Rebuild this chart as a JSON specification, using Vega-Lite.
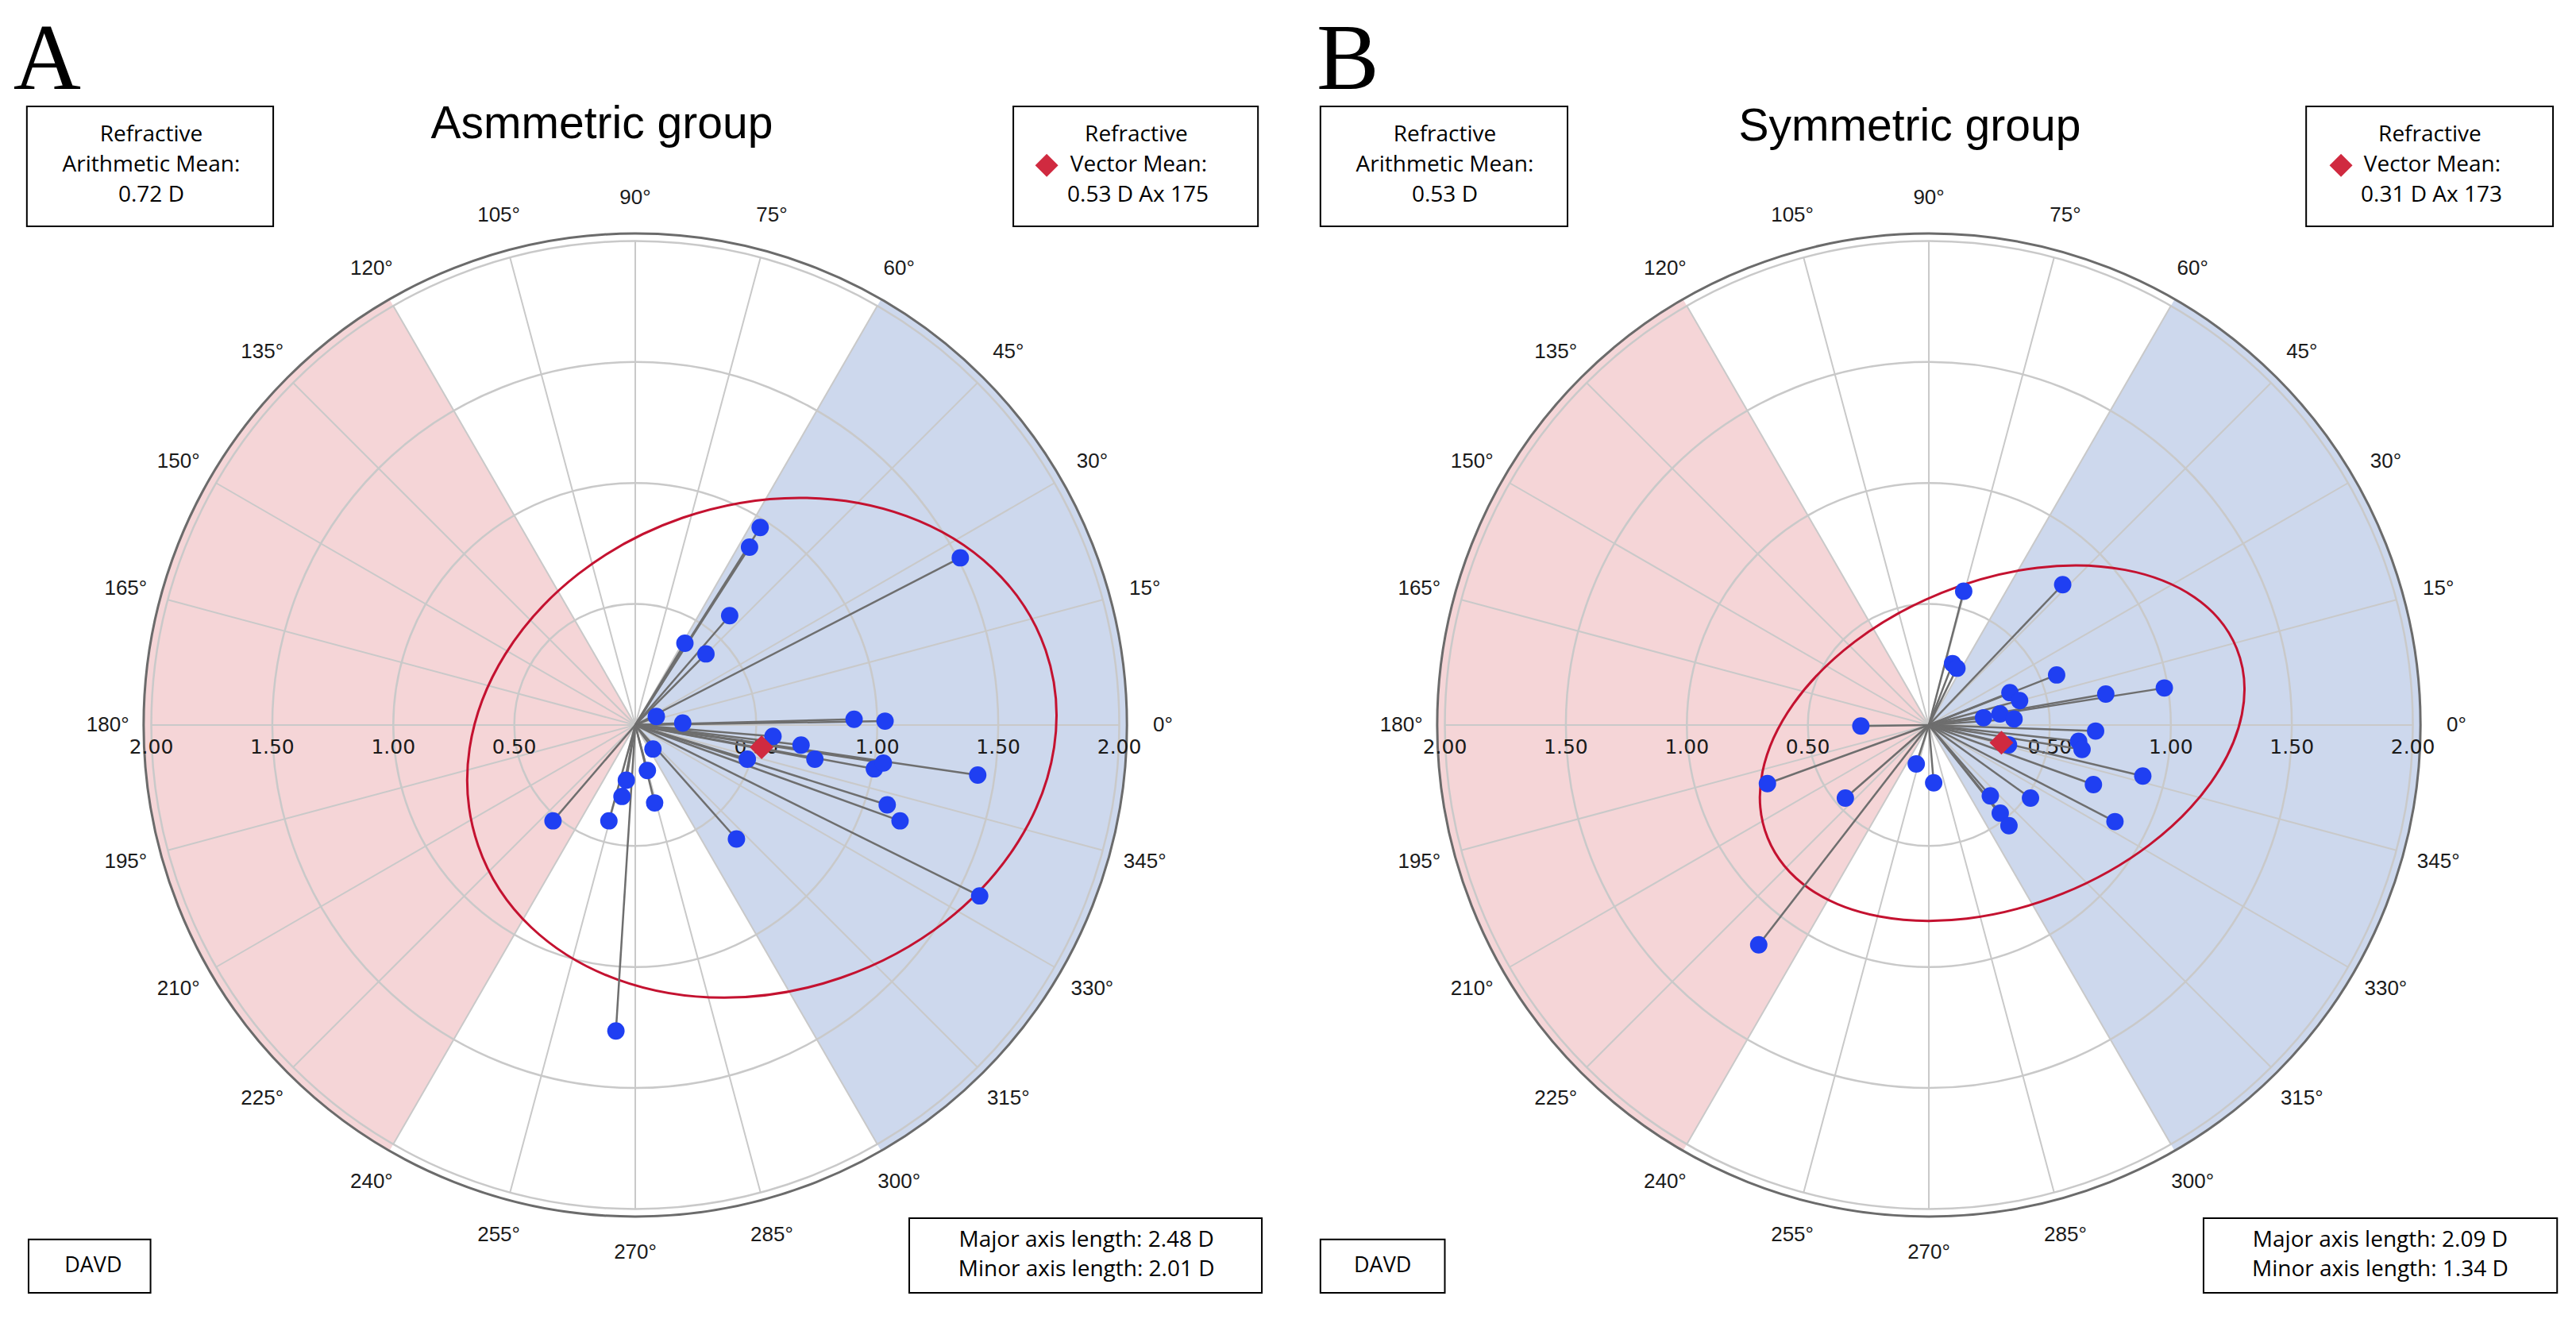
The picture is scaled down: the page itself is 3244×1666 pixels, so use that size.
{
"$schema": "https://vega.github.io/schema/vega-lite/v6.json",
"padding": 0, "spacing": 0, "background": "white",
"config": {"view": {"stroke": null}, "axis": {"disable": true}, "legend": {"disable": true}},
"datasets": {
 "ang": [{"a":0,"t":"0°"},{"a":15,"t":"15°"},{"a":30,"t":"30°"},{"a":45,"t":"45°"},{"a":60,"t":"60°"},{"a":75,"t":"75°"},{"a":90,"t":"90°"},{"a":105,"t":"105°"},{"a":120,"t":"120°"},{"a":135,"t":"135°"},{"a":150,"t":"150°"},{"a":165,"t":"165°"},{"a":180,"t":"180°"},{"a":195,"t":"195°"},{"a":210,"t":"210°"},{"a":225,"t":"225°"},{"a":240,"t":"240°"},{"a":255,"t":"255°"},{"a":270,"t":"270°"},{"a":285,"t":"285°"},{"a":300,"t":"300°"},{"a":315,"t":"315°"},{"a":330,"t":"330°"},{"a":345,"t":"345°"}],
 "rings": [{"r":0.5},{"r":1},{"r":1.5},{"r":2}],
 "rlab": [{"v":-2,"t":"2.00"},{"v":-1.5,"t":"1.50"},{"v":-1,"t":"1.00"},{"v":-0.5,"t":"0.50"},{"v":0.5,"t":"0.50"},{"v":1,"t":"1.00"},{"v":1.5,"t":"1.50"},{"v":2,"t":"2.00"}],
 "zones": [{"from":-60,"to":60,"zone":"with"},{"from":120,"to":240,"zone":"against"}],
 "ptsA": [{"x":0.516,"y":0.816},{"x":0.472,"y":0.735},{"x":1.343,"y":0.691},{"x":0.390,"y":0.452},{"x":0.205,"y":0.338},{"x":0.292,"y":0.294},{"x":0.087,"y":0.035},{"x":0.196,"y":0.008},{"x":0.904,"y":0.024},{"x":1.032,"y":0.016},{"x":0.569,"y":-0.047},{"x":0.685,"y":-0.083},{"x":0.742,"y":-0.141},{"x":0.463,"y":-0.141},{"x":0.988,"y":-0.181},{"x":1.025,"y":-0.157},{"x":1.415,"y":-0.207},{"x":1.041,"y":-0.330},{"x":1.094,"y":-0.396},{"x":0.418,"y":-0.471},{"x":1.423,"y":-0.706},{"x":0.073,"y":-0.099},{"x":0.050,"y":-0.188},{"x":-0.037,"y":-0.228},{"x":-0.055,"y":-0.295},{"x":0.080,"y":-0.322},{"x":-0.109,"y":-0.396},{"x":-0.340,"y":-0.396},{"x":-0.080,"y":-1.264}],
 "ptsB": [{"x":0.553,"y":0.580},{"x":0.144,"y":0.553},{"x":0.098,"y":0.254},{"x":0.116,"y":0.235},{"x":0.528,"y":0.207},{"x":0.973,"y":0.153},{"x":0.731,"y":0.128},{"x":0.335,"y":0.134},{"x":0.375,"y":0.101},{"x":0.294,"y":0.046},{"x":0.226,"y":0.030},{"x":0.352,"y":0.025},{"x":0.689,"y":-0.025},{"x":0.619,"y":-0.067},{"x":0.633,"y":-0.101},{"x":0.329,"y":-0.082},{"x":0.884,"y":-0.211},{"x":0.680,"y":-0.246},{"x":0.420,"y":-0.302},{"x":0.254,"y":-0.293},{"x":0.295,"y":-0.364},{"x":0.331,"y":-0.416},{"x":0.769,"y":-0.399},{"x":-0.052,"y":-0.161},{"x":0.020,"y":-0.239},{"x":-0.281,"y":-0.004},{"x":-0.667,"y":-0.242},{"x":-0.345,"y":-0.302},{"x":-0.703,"y":-0.908}]
},
"hconcat": [
{
 "width": 1629, "height": 1666,
 "data": {"values": [{}]},
 "layer": [
  {"data": {"name": "zones"}, "mark": {"type": "arc", "strokeWidth": 0},
   "encoding": {"x": {"datum": 0, "type": "quantitative", "scale": {"domain": [-2.625, 2.72], "nice": false, "zero": false}},
    "y": {"datum": 0, "type": "quantitative", "scale": {"domain": [-2.471, 2.996], "nice": false, "zero": false}},
    "theta": {"field": "from", "type": "quantitative", "stack": null, "scale": {"type": "linear", "domain": [0, 360], "range": [1.5707963, -4.712389], "zero": false, "nice": false}},
    "theta2": {"field": "to"},
    "radius": {"datum": 2.031, "type": "quantitative", "stack": null, "scale": {"type": "linear", "domain": [0, 2], "range": [0, 609.5], "zero": true, "nice": false}},
    "color": {"field": "zone", "type": "nominal", "scale": {"domain": ["with", "against"], "range": ["#cdd8ed", "#f5d5d7"]}, "legend": null}}},
  {"data": {"name": "rings"}, "mark": {"type": "arc", "theta": 0, "theta2": 6.2832, "filled": false, "stroke": "#c9c9c9", "strokeWidth": 2.5},
   "encoding": {"x": {"datum": 0, "type": "quantitative"}, "y": {"datum": 0, "type": "quantitative"}, "radius": {"field": "r", "type": "quantitative", "stack": null}}},
  {"data": {"name": "ang"}, "mark": {"type": "arc", "filled": false, "stroke": "#c9c9c9", "strokeWidth": 2},
   "encoding": {"x": {"datum": 0, "type": "quantitative"}, "y": {"datum": 0, "type": "quantitative"}, "theta": {"field": "a", "type": "quantitative", "stack": null}, "theta2": {"field": "a"}, "radius": {"datum": 2, "type": "quantitative", "stack": null}}},
  {"mark": {"type": "arc", "theta": 0, "theta2": 6.2832, "filled": false, "stroke": "#6b6b6b", "strokeWidth": 3},
   "encoding": {"x": {"datum": 0, "type": "quantitative"}, "y": {"datum": 0, "type": "quantitative"}, "radius": {"datum": 2.031, "type": "quantitative", "stack": null}}},
  {"data": {"name": "rlab"}, "mark": {"type": "text", "font": "DejaVu Sans", "fontSize": 25, "color": "#1a1a1a", "align": "center", "baseline": "middle"},
   "encoding": {"x": {"field": "v", "type": "quantitative"}, "y": {"datum": -0.092, "type": "quantitative"}, "text": {"field": "t"}}},
  {"data": {"name": "ang"}, "mark": {"type": "text", "font": "Liberation Sans", "fontSize": 26, "color": "#1a1a1a", "align": "center", "baseline": "middle"},
   "encoding": {"x": {"datum": 0, "type": "quantitative"}, "y": {"datum": 0, "type": "quantitative"}, "theta": {"field": "a", "type": "quantitative", "stack": null}, "radius": {"datum": 2.18, "type": "quantitative", "stack": null}, "text": {"field": "t"}}},
  {"mark": {"type": "point", "shape": "M1,0C1,0.4476,0.5523,0.8105,0,0.8105C-0.5523,0.8105,-1,0.4476,-1,0C-1,-0.4476,-0.5523,-0.8105,0,-0.8105C0.5523,-0.8105,1,-0.4476,1,0Z", "filled": false, "stroke": "#c41230", "strokeWidth": 3, "opacity": 1, "size": 571236, "angle": -19},
   "encoding": {"x": {"datum": 0.523, "type": "quantitative"}, "y": {"datum": -0.094, "type": "quantitative"}}},
  {"data": {"name": "ptsA"}, "mark": {"type": "rule", "stroke": "#6e6e6e", "strokeWidth": 2.5},
   "encoding": {"x": {"field": "x", "type": "quantitative"}, "y": {"field": "y", "type": "quantitative"}, "x2": {"datum": 0}, "y2": {"datum": 0}}},
  {"data": {"name": "ptsA"}, "mark": {"type": "point", "shape": "circle", "filled": true, "color": "#1f3ff2", "opacity": 1, "size": 480},
   "encoding": {"x": {"field": "x", "type": "quantitative"}, "y": {"field": "y", "type": "quantitative"}}},
  {"mark": {"type": "point", "shape": "diamond", "filled": true, "color": "#d02a40", "opacity": 1, "size": 900},
   "encoding": {"x": {"datum": 0.522, "type": "quantitative"}, "y": {"datum": -0.092, "type": "quantitative"}}},
  {"mark": {"type": "text", "text": "A", "font": "Liberation Serif", "fontSize": 118, "color": "black", "align": "left", "baseline": "alphabetic"},
   "encoding": {"x": {"datum": -2.57, "type": "quantitative"}, "y": {"datum": 2.628, "type": "quantitative"}}},
  {"mark": {"type": "text", "text": "Asmmetric group", "font": "Liberation Sans", "fontSize": 57, "color": "black", "align": "center", "baseline": "alphabetic"},
   "encoding": {"x": {"datum": -0.138, "type": "quantitative"}, "y": {"datum": 2.425, "type": "quantitative"}}},
  {"mark": {"type": "rect", "fill": "white", "stroke": "black", "strokeWidth": 2},
   "encoding": {"x": {"datum": -2.514, "type": "quantitative"}, "x2": {"datum": -1.496}, "y": {"datum": 2.556, "type": "quantitative"}, "y2": {"datum": 2.061}}},
  {"mark": {"type": "rect", "fill": "white", "stroke": "black", "strokeWidth": 2},
   "encoding": {"x": {"datum": 1.562, "type": "quantitative"}, "x2": {"datum": 2.573}, "y": {"datum": 2.556, "type": "quantitative"}, "y2": {"datum": 2.061}}},
  {"mark": {"type": "rect", "fill": "white", "stroke": "black", "strokeWidth": 2},
   "encoding": {"x": {"datum": -2.507, "type": "quantitative"}, "x2": {"datum": -2.003}, "y": {"datum": -2.126, "type": "quantitative"}, "y2": {"datum": -2.346}}},
  {"mark": {"type": "rect", "fill": "white", "stroke": "black", "strokeWidth": 2},
   "encoding": {"x": {"datum": 1.132, "type": "quantitative"}, "x2": {"datum": 2.589}, "y": {"datum": -2.038, "type": "quantitative"}, "y2": {"datum": -2.346}}},
  {"mark": {"type": "text", "text": "Refractive", "font": "Open Sans", "fontSize": 28, "color": "black", "align": "center", "baseline": "middle"},
   "encoding": {"x": {"datum": -2.0, "type": "quantitative"}, "y": {"datum": 2.438, "type": "quantitative"}}},
  {"mark": {"type": "text", "text": "Arithmetic Mean:", "font": "Open Sans", "fontSize": 28, "color": "black", "align": "center", "baseline": "middle"},
   "encoding": {"x": {"datum": -2.0, "type": "quantitative"}, "y": {"datum": 2.313, "type": "quantitative"}}},
  {"mark": {"type": "text", "text": "0.72 D", "font": "Open Sans", "fontSize": 28, "color": "black", "align": "center", "baseline": "middle"},
   "encoding": {"x": {"datum": -2.0, "type": "quantitative"}, "y": {"datum": 2.189, "type": "quantitative"}}},
  {"mark": {"type": "text", "text": "Refractive", "font": "Open Sans", "fontSize": 28, "color": "black", "align": "center", "baseline": "middle"},
   "encoding": {"x": {"datum": 2.07, "type": "quantitative"}, "y": {"datum": 2.438, "type": "quantitative"}}},
  {"mark": {"type": "text", "text": "Vector Mean:", "font": "Open Sans", "fontSize": 28, "color": "black", "align": "center", "baseline": "middle"},
   "encoding": {"x": {"datum": 2.08, "type": "quantitative"}, "y": {"datum": 2.313, "type": "quantitative"}}},
  {"mark": {"type": "text", "text": "0.53 D Ax 175", "font": "Open Sans", "fontSize": 28, "color": "black", "align": "center", "baseline": "middle"},
   "encoding": {"x": {"datum": 2.077, "type": "quantitative"}, "y": {"datum": 2.189, "type": "quantitative"}}},
  {"mark": {"type": "point", "shape": "diamond", "filled": true, "color": "#d02a40", "opacity": 1, "size": 841},
   "encoding": {"x": {"datum": 1.70, "type": "quantitative"}, "y": {"datum": 2.313, "type": "quantitative"}}},
  {"mark": {"type": "text", "text": "DAVD", "font": "Open Sans", "fontSize": 27, "color": "black", "align": "center", "baseline": "middle"},
   "encoding": {"x": {"datum": -2.24, "type": "quantitative"}, "y": {"datum": -2.236, "type": "quantitative"}}},
  {"mark": {"type": "text", "text": "Major axis length: 2.48 D", "font": "Open Sans", "fontSize": 28, "color": "black", "align": "center", "baseline": "middle"},
   "encoding": {"x": {"datum": 1.864, "type": "quantitative"}, "y": {"datum": -2.13, "type": "quantitative"}}},
  {"mark": {"type": "text", "text": "Minor axis length: 2.01 D", "font": "Open Sans", "fontSize": 28, "color": "black", "align": "center", "baseline": "middle"},
   "encoding": {"x": {"datum": 1.864, "type": "quantitative"}, "y": {"datum": -2.251, "type": "quantitative"}}}
 ]
},
{
 "width": 1615, "height": 1666,
 "data": {"values": [{}]},
 "layer": [
  {"data": {"name": "zones"}, "mark": {"type": "arc", "strokeWidth": 0},
   "encoding": {"x": {"datum": 0, "type": "quantitative", "scale": {"domain": [-2.625, 2.674], "nice": false, "zero": false}},
    "y": {"datum": 0, "type": "quantitative", "scale": {"domain": [-2.471, 2.996], "nice": false, "zero": false}},
    "theta": {"field": "from", "type": "quantitative", "stack": null, "scale": {"type": "linear", "domain": [0, 360], "range": [1.5707963, -4.712389], "zero": false, "nice": false}},
    "theta2": {"field": "to"},
    "radius": {"datum": 2.031, "type": "quantitative", "stack": null, "scale": {"type": "linear", "domain": [0, 2], "range": [0, 609.5], "zero": true, "nice": false}},
    "color": {"field": "zone", "type": "nominal", "scale": {"domain": ["with", "against"], "range": ["#cdd8ed", "#f5d5d7"]}, "legend": null}}},
  {"data": {"name": "rings"}, "mark": {"type": "arc", "theta": 0, "theta2": 6.2832, "filled": false, "stroke": "#c9c9c9", "strokeWidth": 2.5},
   "encoding": {"x": {"datum": 0, "type": "quantitative"}, "y": {"datum": 0, "type": "quantitative"}, "radius": {"field": "r", "type": "quantitative", "stack": null}}},
  {"data": {"name": "ang"}, "mark": {"type": "arc", "filled": false, "stroke": "#c9c9c9", "strokeWidth": 2},
   "encoding": {"x": {"datum": 0, "type": "quantitative"}, "y": {"datum": 0, "type": "quantitative"}, "theta": {"field": "a", "type": "quantitative", "stack": null}, "theta2": {"field": "a"}, "radius": {"datum": 2, "type": "quantitative", "stack": null}}},
  {"mark": {"type": "arc", "theta": 0, "theta2": 6.2832, "filled": false, "stroke": "#6b6b6b", "strokeWidth": 3},
   "encoding": {"x": {"datum": 0, "type": "quantitative"}, "y": {"datum": 0, "type": "quantitative"}, "radius": {"datum": 2.031, "type": "quantitative", "stack": null}}},
  {"data": {"name": "rlab"}, "mark": {"type": "text", "font": "DejaVu Sans", "fontSize": 25, "color": "#1a1a1a", "align": "center", "baseline": "middle"},
   "encoding": {"x": {"field": "v", "type": "quantitative"}, "y": {"datum": -0.092, "type": "quantitative"}, "text": {"field": "t"}}},
  {"data": {"name": "ang"}, "mark": {"type": "text", "font": "Liberation Sans", "fontSize": 26, "color": "#1a1a1a", "align": "center", "baseline": "middle"},
   "encoding": {"x": {"datum": 0, "type": "quantitative"}, "y": {"datum": 0, "type": "quantitative"}, "theta": {"field": "a", "type": "quantitative", "stack": null}, "radius": {"datum": 2.18, "type": "quantitative", "stack": null}, "text": {"field": "t"}}},
  {"mark": {"type": "point", "shape": "M1,0C1,0.3541,0.5523,0.6411,0,0.6411C-0.5523,0.6411,-1,0.3541,-1,0C-1,-0.3541,-0.5523,-0.6411,0,-0.6411C0.5523,-0.6411,1,-0.3541,1,0Z", "filled": false, "stroke": "#c41230", "strokeWidth": 3, "opacity": 1, "size": 405769, "angle": -22},
   "encoding": {"x": {"datum": 0.303, "type": "quantitative"}, "y": {"datum": -0.075, "type": "quantitative"}}},
  {"data": {"name": "ptsB"}, "mark": {"type": "rule", "stroke": "#6e6e6e", "strokeWidth": 2.5},
   "encoding": {"x": {"field": "x", "type": "quantitative"}, "y": {"field": "y", "type": "quantitative"}, "x2": {"datum": 0}, "y2": {"datum": 0}}},
  {"data": {"name": "ptsB"}, "mark": {"type": "point", "shape": "circle", "filled": true, "color": "#1f3ff2", "opacity": 1, "size": 480},
   "encoding": {"x": {"field": "x", "type": "quantitative"}, "y": {"field": "y", "type": "quantitative"}}},
  {"mark": {"type": "point", "shape": "diamond", "filled": true, "color": "#d02a40", "opacity": 1, "size": 900},
   "encoding": {"x": {"datum": 0.300, "type": "quantitative"}, "y": {"datum": -0.073, "type": "quantitative"}}},
  {"mark": {"type": "text", "text": "B", "font": "Liberation Serif", "fontSize": 118, "color": "black", "align": "left", "baseline": "alphabetic"},
   "encoding": {"x": {"datum": -2.53, "type": "quantitative"}, "y": {"datum": 2.628, "type": "quantitative"}}},
  {"mark": {"type": "text", "text": "Symmetric group", "font": "Liberation Sans", "fontSize": 57, "color": "black", "align": "center", "baseline": "alphabetic"},
   "encoding": {"x": {"datum": -0.079, "type": "quantitative"}, "y": {"datum": 2.415, "type": "quantitative"}}},
  {"mark": {"type": "rect", "fill": "white", "stroke": "black", "strokeWidth": 2},
   "encoding": {"x": {"datum": -2.514, "type": "quantitative"}, "x2": {"datum": -1.493}, "y": {"datum": 2.556, "type": "quantitative"}, "y2": {"datum": 2.061}}},
  {"mark": {"type": "rect", "fill": "white", "stroke": "black", "strokeWidth": 2},
   "encoding": {"x": {"datum": 1.559, "type": "quantitative"}, "x2": {"datum": 2.579}, "y": {"datum": 2.556, "type": "quantitative"}, "y2": {"datum": 2.061}}},
  {"mark": {"type": "rect", "fill": "white", "stroke": "black", "strokeWidth": 2},
   "encoding": {"x": {"datum": -2.514, "type": "quantitative"}, "x2": {"datum": -2.0}, "y": {"datum": -2.126, "type": "quantitative"}, "y2": {"datum": -2.346}}},
  {"mark": {"type": "rect", "fill": "white", "stroke": "black", "strokeWidth": 2},
   "encoding": {"x": {"datum": 1.135, "type": "quantitative"}, "x2": {"datum": 2.596}, "y": {"datum": -2.038, "type": "quantitative"}, "y2": {"datum": -2.346}}},
  {"mark": {"type": "text", "text": "Refractive", "font": "Open Sans", "fontSize": 28, "color": "black", "align": "center", "baseline": "middle"},
   "encoding": {"x": {"datum": -2.0, "type": "quantitative"}, "y": {"datum": 2.438, "type": "quantitative"}}},
  {"mark": {"type": "text", "text": "Arithmetic Mean:", "font": "Open Sans", "fontSize": 28, "color": "black", "align": "center", "baseline": "middle"},
   "encoding": {"x": {"datum": -2.0, "type": "quantitative"}, "y": {"datum": 2.313, "type": "quantitative"}}},
  {"mark": {"type": "text", "text": "0.53 D", "font": "Open Sans", "fontSize": 28, "color": "black", "align": "center", "baseline": "middle"},
   "encoding": {"x": {"datum": -2.0, "type": "quantitative"}, "y": {"datum": 2.189, "type": "quantitative"}}},
  {"mark": {"type": "text", "text": "Refractive", "font": "Open Sans", "fontSize": 28, "color": "black", "align": "center", "baseline": "middle"},
   "encoding": {"x": {"datum": 2.07, "type": "quantitative"}, "y": {"datum": 2.438, "type": "quantitative"}}},
  {"mark": {"type": "text", "text": "Vector Mean:", "font": "Open Sans", "fontSize": 28, "color": "black", "align": "center", "baseline": "middle"},
   "encoding": {"x": {"datum": 2.08, "type": "quantitative"}, "y": {"datum": 2.313, "type": "quantitative"}}},
  {"mark": {"type": "text", "text": "0.31 D Ax 173", "font": "Open Sans", "fontSize": 28, "color": "black", "align": "center", "baseline": "middle"},
   "encoding": {"x": {"datum": 2.077, "type": "quantitative"}, "y": {"datum": 2.189, "type": "quantitative"}}},
  {"mark": {"type": "point", "shape": "diamond", "filled": true, "color": "#d02a40", "opacity": 1, "size": 841},
   "encoding": {"x": {"datum": 1.703, "type": "quantitative"}, "y": {"datum": 2.313, "type": "quantitative"}}},
  {"mark": {"type": "text", "text": "DAVD", "font": "Open Sans", "fontSize": 27, "color": "black", "align": "center", "baseline": "middle"},
   "encoding": {"x": {"datum": -2.257, "type": "quantitative"}, "y": {"datum": -2.236, "type": "quantitative"}}},
  {"mark": {"type": "text", "text": "Major axis length: 2.09 D", "font": "Open Sans", "fontSize": 28, "color": "black", "align": "center", "baseline": "middle"},
   "encoding": {"x": {"datum": 1.865, "type": "quantitative"}, "y": {"datum": -2.13, "type": "quantitative"}}},
  {"mark": {"type": "text", "text": "Minor axis length: 1.34 D", "font": "Open Sans", "fontSize": 28, "color": "black", "align": "center", "baseline": "middle"},
   "encoding": {"x": {"datum": 1.865, "type": "quantitative"}, "y": {"datum": -2.251, "type": "quantitative"}}}
 ]
}
]
}
